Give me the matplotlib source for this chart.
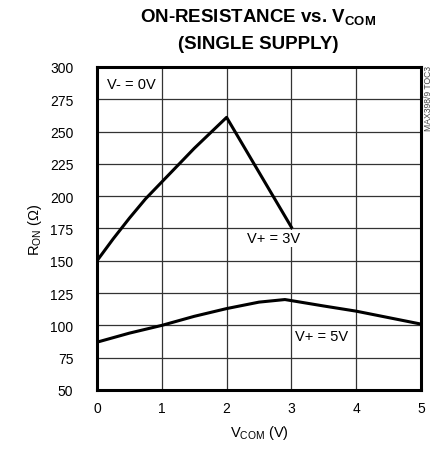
import matplotlib
matplotlib.use("Agg")
import matplotlib.pyplot as plt

plt.rcParams['font.family'] = ['Liberation Sans', 'DejaVu Sans']
plt.rcParams['mathtext.fontset'] = 'custom'
plt.rcParams['mathtext.rm'] = 'Liberation Sans'
plt.rcParams['mathtext.bf'] = 'Liberation Sans:bold'

# V+ = 3V curve
v3_x = [0, 0.25, 0.5, 0.75, 1.0, 1.25, 1.5, 1.75, 2.0, 3.0]
v3_y = [150, 167, 183, 198, 211, 224, 237, 249, 261, 176]

# V+ = 5V curve
v5_x = [0, 0.5, 1.0, 1.5, 2.0, 2.5, 2.9, 3.5, 4.0, 4.5, 5.0]
v5_y = [87, 94, 100, 107, 113, 118, 120, 115, 111, 106, 101]

xticks = [0, 1, 2, 3, 4, 5]
yticks = [50, 75, 100, 125, 150, 175, 200, 225, 250, 275, 300]

fig = plt.figure(figsize=(4.36, 4.52), dpi=100)
ax = fig.add_axes([0.2225, 0.135, 0.7431, 0.7146])

ax.plot(v3_x, v3_y, color='black', lw=2.2, zorder=3)
ax.plot(v5_x, v5_y, color='black', lw=2.2, zorder=3)

ax.set_xlim(0, 5)
ax.set_ylim(50, 300)
ax.set_xticks(xticks)
ax.set_yticks(yticks)
ax.tick_params(length=0, labelsize=10)
ax.tick_params(axis='x', pad=8)
ax.tick_params(axis='y', pad=17)
ax.grid(True, color='#333333', lw=0.9)
for s in ax.spines.values():
    s.set_linewidth(2.2)

ax.set_xlabel(r'V$_{\mathregular{COM}}$ (V)', fontsize=10.5, labelpad=6)
ax.set_ylabel(r'R$_{\mathregular{ON}}$ ($\Omega$)', fontsize=10.5, labelpad=4)

fig.text(0.592, 0.96, r'ON-RESISTANCE vs. V$_{\mathbf{COM}}$', ha='center', va='center',
         fontsize=13.5, fontweight='bold')
fig.text(0.592, 0.902, '(SINGLE SUPPLY)', ha='center', va='center',
         fontsize=13.5, fontweight='bold')

bbox = dict(facecolor='white', edgecolor='none', pad=1)
ax.text(0.15, 287, 'V- = 0V', fontsize=10.5, va='center', ha='left', bbox=bbox, zorder=4)
ax.text(2.32, 167.5, 'V+ = 3V', fontsize=10.5, va='center', ha='left', bbox=bbox, zorder=4)
ax.text(3.06, 92, 'V+ = 5V', fontsize=10.5, va='center', ha='left', bbox=bbox, zorder=4)

fig.text(0.982, 0.855, 'MAX398/9 TOC3', rotation=90, ha='center', va='top',
         fontsize=6.2, color='#444444')

fig.savefig('out.png', dpi=100)
